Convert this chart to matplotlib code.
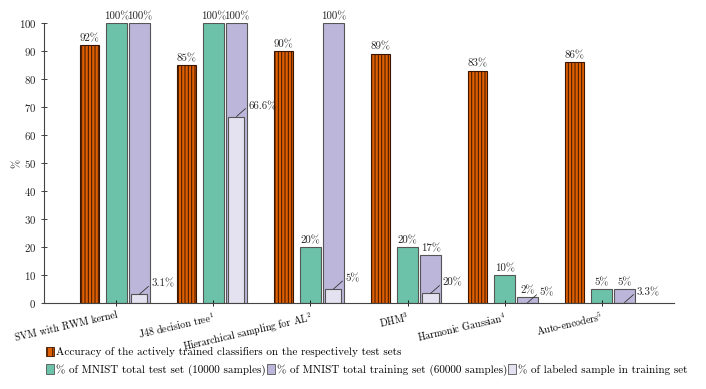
import matplotlib
matplotlib.use("Agg")
import matplotlib.pyplot as plt
from matplotlib.patches import Patch
import numpy as np

plt.rcParams['font.family'] = 'serif'
plt.rcParams['font.serif'] = ['cmr10', 'DejaVu Serif']
plt.rcParams['mathtext.fontset'] = 'cm'
plt.rcParams['axes.unicode_minus'] = False
plt.rcParams['axes.formatter.use_mathtext'] = True
plt.rcParams['hatch.linewidth'] = 0.7

categories = ["SVM with RWM kernel", "J48 decision tree$^1$", "Hierarchical sampling for AL$^2$",
              "DHM$^3$", "Harmonic Gaussian$^4$", "Auto-encoders$^5$"]
accuracy = [92, 85, 90, 89, 83, 86]
test_pct = [100, 100, 20, 20, 10, 5]
train_pct = [100, 100, 100, 17, 2, 5]
labeled_height = [3.1, 66.6, 5, 3.4, 0.1, 0.17]
labeled_text = ["3.1%", "66.6%", "5%", "20%", "5%", "3.3%"]

legend_labels = ["Accuracy of the actively trained classifiers on the respectively test sets",
                 "% of MNIST total test set (10000 samples)",
                 "% of MNIST total training set (60000 samples)",
                 "% of labeled sample in training set"]

c_orange = '#DD5F02'
c_green = '#6CC2A8'
c_purple = '#BCB7DA'
c_light = '#E4E2F0'
c_edge = '#555555'

fig = plt.figure(figsize=(7.06, 3.89), dpi=100)
ax = fig.add_axes([44/706, 1-303/389, (674-44)/706, (303-23)/389])

x = np.arange(len(categories))
b1 = ax.bar(x - 0.278, accuracy, width=0.196, color=c_orange, edgecolor='#3a1500',
            hatch='|||||', linewidth=0.8)
b2 = ax.bar(x, test_pct, width=0.216, color=c_green, edgecolor=c_edge, linewidth=0.8)
b3 = ax.bar(x + 0.237, train_pct, width=0.216, color=c_purple, edgecolor=c_edge, linewidth=0.8)
b4 = ax.bar(x + 0.237, labeled_height, width=0.165, color=c_light, edgecolor=c_edge, linewidth=0.8)

fs = 7.8
for bars, vals in [(b1, accuracy), (b2, test_pct), (b3, train_pct)]:
    ax.bar_label(bars, labels=[f"{v:g}%" for v in vals], padding=1.5, fontsize=fs, color='#222222')

for xi, h, t in zip(x, labeled_height, labeled_text):
    ax.annotate(t, xy=(xi + 0.237, h), xytext=(8.5, 7.5), textcoords='offset points',
                fontsize=fs, ha='left', va='center', color='#222222',
                arrowprops=dict(arrowstyle='-', color='#333333', lw=0.6, shrinkA=0, shrinkB=0,
                                relpos=(0, 0.5)))

ax.set_xlim(-0.747, 5.747)
ax.set_ylim(0, 100)
ax.set_yticks(np.arange(0, 101, 10))
ax.set_xticks(x)
ax.set_xticklabels(categories, rotation=13, ha='right', rotation_mode='anchor', fontsize=7.2)
ax.tick_params(axis='y', labelsize=fs, direction='inout', length=4, width=0.6, colors='#222222')
ax.tick_params(axis='x', direction='inout', length=4, width=0.6, pad=3)
ax.spines['top'].set_visible(False)
ax.spines['right'].set_visible(False)
ax.spines['left'].set_color('#444444')
ax.spines['bottom'].set_color('#444444')
ax.set_ylabel('%', fontsize=fs)
ax.yaxis.set_label_coords((22 - 44) / 630, 0.5)

h_acc = Patch(facecolor=c_orange, edgecolor='#3a1500', hatch='|||', linewidth=0.6)
h_test = Patch(facecolor=c_green, edgecolor=c_edge, linewidth=0.6)
h_train = Patch(facecolor=c_purple, edgecolor=c_edge, linewidth=0.6)
h_lab = Patch(facecolor=c_light, edgecolor=c_edge, linewidth=0.6)

kw = dict(frameon=False, fontsize=8.0, handlelength=0.7, handleheight=0.9, handletextpad=0.2,
          borderpad=0, borderaxespad=0, columnspacing=0.1)
l1 = fig.legend([h_acc], [legend_labels[0]], loc='center left',
                bbox_to_anchor=(46/706, 1-352/389), **kw)
l2 = fig.legend([h_test, h_train, h_lab], legend_labels[1:], loc='center left', ncol=3,
                bbox_to_anchor=(46/706, 1-370/389), **kw)

fig.savefig('out.png', dpi=100)
